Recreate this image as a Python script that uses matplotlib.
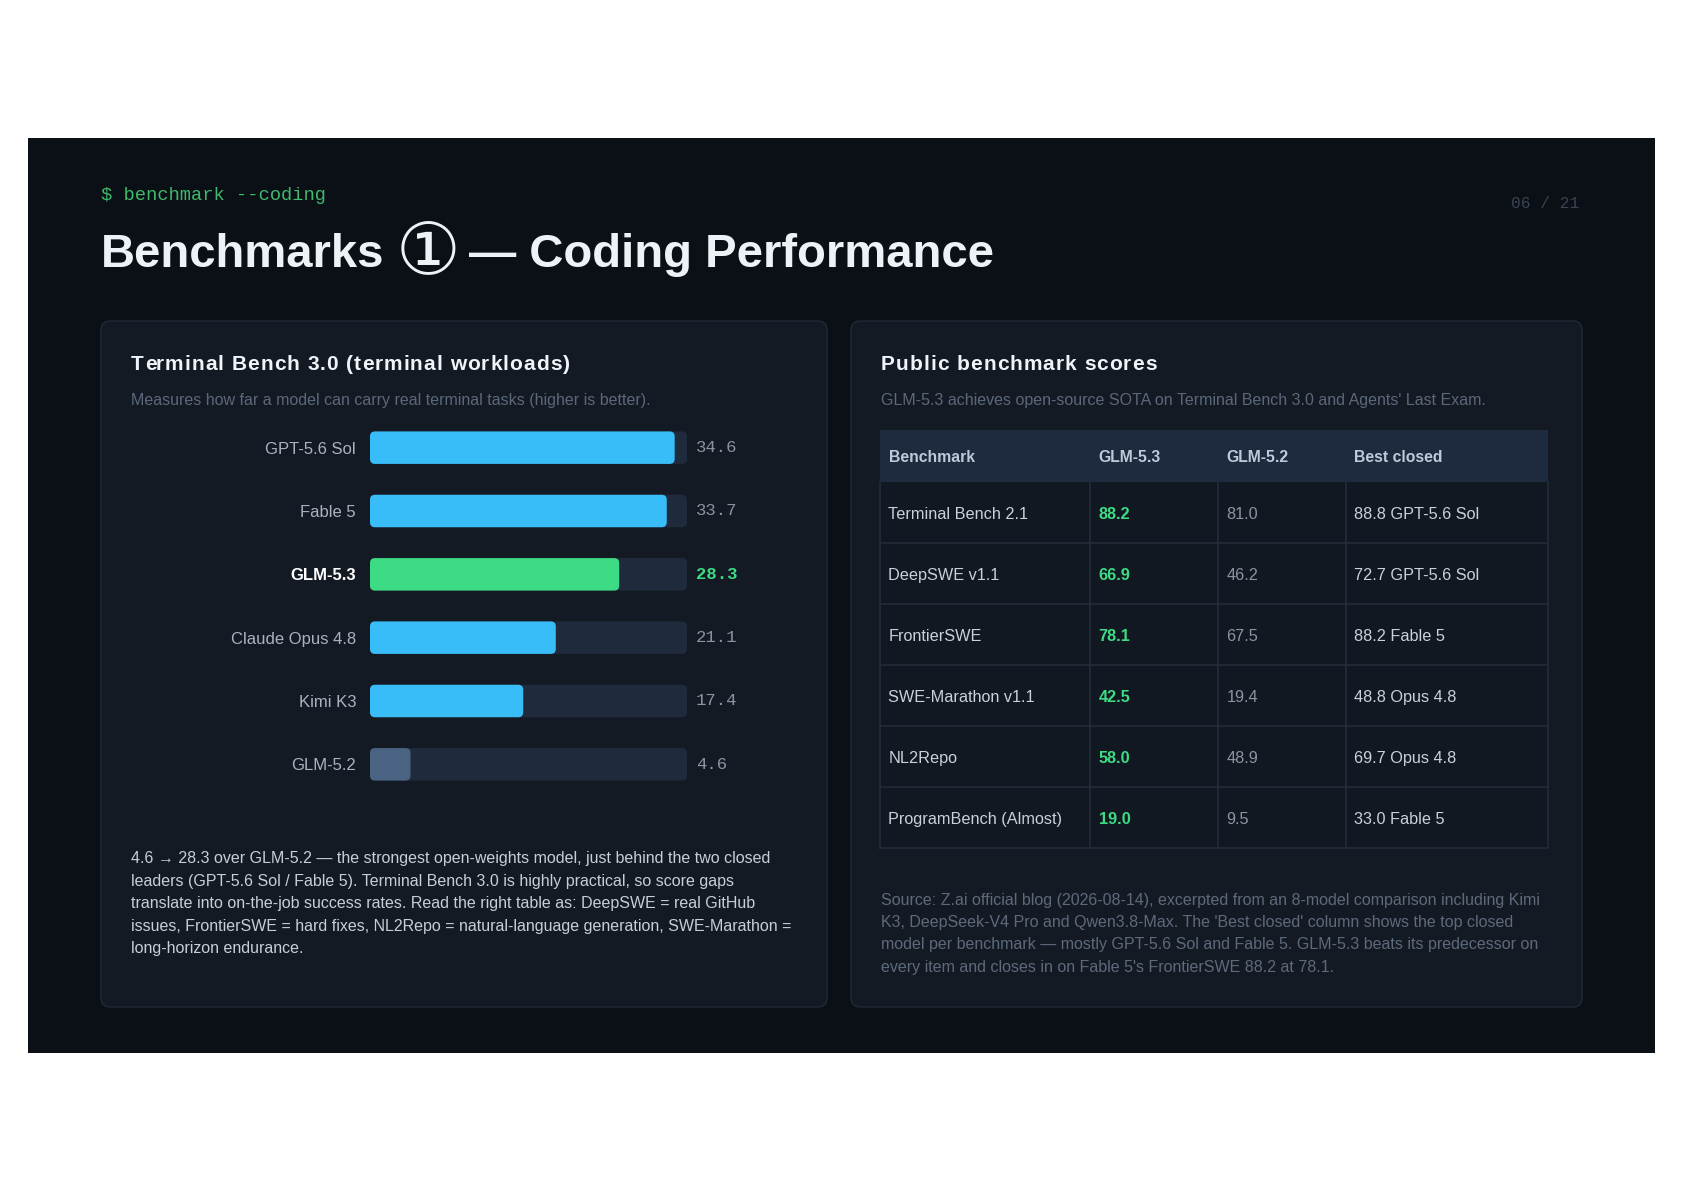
import matplotlib
matplotlib.use('Agg')
import matplotlib.pyplot as plt
from matplotlib.patches import FancyBboxPatch, Rectangle

SANS = ['Liberation Sans', 'DejaVu Sans']
MONO = ['Liberation Mono', 'DejaVu Sans Mono']

# left card: Terminal Bench 3.0 scores
models = ['GPT-5.6 Sol', 'Fable 5', 'GLM-5.3', 'Claude Opus 4.8', 'Kimi K3', 'GLM-5.2']
scores = [34.6, 33.7, 28.3, 21.1, 17.4, 4.6]
highlight = 'GLM-5.3'
score_max = 36

# right card: public benchmark table
table_header = ['Benchmark', 'GLM-5.3', 'GLM-5.2', 'Best closed']
benchmarks = ['Terminal Bench 2.1', 'DeepSWE v1.1', 'FrontierSWE',
              'SWE-Marathon v1.1', 'NL2Repo', 'ProgramBench (Almost)']
glm53 = [88.2, 66.9, 78.1, 42.5, 58.0, 19.0]
glm52 = [81.0, 46.2, 67.5, 19.4, 48.9, 9.5]
best_closed = ['88.8 GPT-5.6 Sol', '72.7 GPT-5.6 Sol', '88.2 Fable 5',
               '48.8 Opus 4.8', '69.7 Opus 4.8', '33.0 Fable 5']

note_lines = [
    '4.6 \u2192 28.3 over GLM-5.2 \u2014 the strongest open-weights model, just behind the two closed',
    'leaders (GPT-5.6 Sol / Fable 5). Terminal Bench 3.0 is highly practical, so score gaps',
    'translate into on-the-job success rates. Read the right table as: DeepSWE = real GitHub',
    'issues, FrontierSWE = hard fixes, NL2Repo = natural-language generation, SWE-Marathon =',
    'long-horizon endurance.',
]
source_lines = [
    'Source: Z.ai official blog (2026-08-14), excerpted from an 8-model comparison including Kimi',
    "K3, DeepSeek-V4 Pro and Qwen3.8-Max. The 'Best closed' column shows the top closed",
    'model per benchmark \u2014 mostly GPT-5.6 Sol and Fable 5. GLM-5.3 beats its predecessor on',
    "every item and closes in on Fable 5's FrontierSWE 88.2 at 78.1.",
]

W, H = 1684, 1191
BG = '#0b0f16'
CARD = '#141a24'
CARD_EDGE = '#1f2733'
BLUE = '#38bdf8'
GREEN = '#3ddc84'
SLATE = '#4a6382'
TRACK = '#1f2b3d'


def frac(x0, y0, x1, y1):
    return [x0 / W, 1 - y1 / H, (x1 - x0) / W, (y1 - y0) / H]


def spaced_text(fig, ax, x, y, s, spacing, **kw):
    '''draw text with extra letter spacing (pixels), bg axes is in pixels'''
    r = fig.canvas.get_renderer()

    def width(t):
        tmp = ax.text(0, 0, t, **kw)
        w = tmp.get_window_extent(r).width
        tmp.remove()
        return w

    bar_w = width('|')
    for k, ch in enumerate(s):
        if ch == ' ':
            continue
        off = width(s[:k] + '|') - bar_w if k else 0
        ax.text(x + off + k * spacing, y, ch, **kw)


def main():
    fig = plt.figure(figsize=(W / 100, H / 100), dpi=100, facecolor='white')
    bg = fig.add_axes([0, 0, 1, 1])
    bg.set_xlim(0, W)
    bg.set_ylim(H, 0)
    bg.axis('off')

    bg.add_patch(Rectangle((28, 138), 1627, 915, facecolor=BG, edgecolor='none'))
    for x0, x1 in [(101, 827), (851, 1582)]:
        bg.add_patch(FancyBboxPatch((x0, 321), x1 - x0, 686,
                                    boxstyle='round,pad=0,rounding_size=9',
                                    facecolor=CARD, edgecolor=CARD_EDGE, linewidth=1.2))

    # header
    bg.text(101, 195, '$ benchmark --coding', family=MONO, size=13.5,
            color='#3fb96b', va='center')
    bg.text(1579, 204, '06 / 21', family=MONO, size=11.7, color='#3a4452',
            va='center', ha='right')
    bg.text(101, 267, 'Benchmarks', family=SANS,
            size=34, weight='bold', color='#eef2f7', va='baseline')
    bg.text(428, 254, '\u2460', family=['DejaVu Sans'],
            size=52, color='#eef2f7', va='center', ha='center')
    bg.text(469, 267, '\u2014 Coding Performance', family=SANS,
            size=34, weight='bold', color='#eef2f7', va='baseline')

    # card titles
    spaced_text(fig, bg, 131, 364, 'Terminal Bench 3.0 (terminal workloads)', 1.0,
                family=SANS, size=15, weight='bold', color='#f0f3f7', va='center')
    bg.text(131, 400, 'Measures how far a model can carry real terminal tasks (higher is better).',
            family=SANS, size=11.5, color='#5b687a', va='center')
    spaced_text(fig, bg, 881, 364, 'Public benchmark scores', 1.0,
                family=SANS, size=15, weight='bold', color='#f0f3f7', va='center')
    bg.text(881, 400, "GLM-5.3 achieves open-source SOTA on Terminal Bench 3.0 and Agents' Last Exam.",
            family=SANS, size=11.5, color='#5b687a', va='center')

    # bar chart
    ax = fig.add_axes(frac(370, 416, 687, 796))
    ax.set_xlim(0, score_max)
    ax.set_ylim(len(models) - 0.5, -0.5)
    ax.patch.set_alpha(0)
    for s in ax.spines.values():
        s.set_visible(False)
    ax.set_xticks([])
    bar_h = 0.513
    px_x = score_max / 317.0
    px_y = len(models) / 380.0
    r = 5 * px_x
    asp = px_y / px_x
    for i, (m, v) in enumerate(zip(models, scores)):
        ax.add_patch(FancyBboxPatch((0, i - bar_h / 2), score_max, bar_h,
                                    boxstyle=f'round,pad=0,rounding_size={r}',
                                    mutation_aspect=asp, facecolor=TRACK, edgecolor='none'))
        if m == highlight:
            col = GREEN
        elif m == 'GLM-5.2':
            col = SLATE
        else:
            col = BLUE
        ax.add_patch(FancyBboxPatch((0, i - bar_h / 2), v, bar_h,
                                    boxstyle=f'round,pad=0,rounding_size={r}',
                                    mutation_aspect=asp, facecolor=col, edgecolor='none'))
        ax.annotate(f'{v:.1f}', xy=(score_max, i), xytext=(6.5, 0),
                    textcoords='offset points', va='center', ha='left',
                    family=MONO, size=12.4,
                    color=GREEN if m == highlight else '#8a94a1',
                    weight='bold' if m == highlight else 'normal')
    ax.set_yticks(range(len(models)), models)
    ax.tick_params(axis='y', length=0, pad=10, labelsize=12, labelcolor='#a9b3bf')
    for lab in ax.get_yticklabels():
        lab.set_family(SANS)
        if lab.get_text() == highlight:
            lab.set_weight('bold')
            lab.set_color('#ffffff')

    for i, line in enumerate(note_lines):
        bg.text(131, 858.5 + 22.6 * i, line, family=SANS, size=11.5,
                color='#c6ced8', va='center')

    # table
    tx0, tx1 = 880, 1548
    col_x = [880, 1090, 1218, 1346]
    head_top, head_bot = 430, 482
    row_h = 61.0
    bg.add_patch(Rectangle((tx0, head_top), tx1 - tx0, head_bot - head_top,
                           facecolor='#1e2a3d', edgecolor='none'))
    for j, h in enumerate(table_header):
        bg.text(col_x[j] + 8.5, (head_top + head_bot) / 2 + 2, h, family=SANS, size=11.3,
                weight='bold', color='#bccadb', va='center')
    line_col = '#222c3a'
    for i in range(len(benchmarks)):
        y0 = head_bot + row_h * i
        bg.add_patch(Rectangle((tx0, y0), tx1 - tx0, row_h, facecolor='#121822',
                               edgecolor='none'))
        yc = y0 + row_h / 2 + 2
        bg.text(col_x[0] + 8.5, yc, benchmarks[i], family=SANS, size=11.7,
                color='#c9d1da', va='center')
        bg.text(col_x[1] + 8.5, yc, f'{glm53[i]:.1f}', family=SANS, size=11.7,
                weight='bold', color=GREEN, va='center')
        bg.text(col_x[2] + 8.5, yc, f'{glm52[i]:.1f}', family=SANS, size=11.7,
                color='#8b949f', va='center')
        bg.text(col_x[3] + 8.5, yc, best_closed[i], family=SANS, size=11.7,
                color='#c9d1da', va='center')
        bg.plot([tx0, tx1], [y0 + row_h, y0 + row_h], color=line_col, lw=1.2)
    tab_bot = head_bot + row_h * len(benchmarks)
    for x in col_x[1:] + [tx0, tx1]:
        bg.plot([x, x], [head_bot, tab_bot], color=line_col, lw=1.2)

    for i, line in enumerate(source_lines):
        bg.text(881, 900 + 22.4 * i, line, family=SANS, size=11.5,
                color='#5d6a7b', va='center')

    fig.savefig('out.png', dpi=100, facecolor='white')


if __name__ == '__main__':
    main()
